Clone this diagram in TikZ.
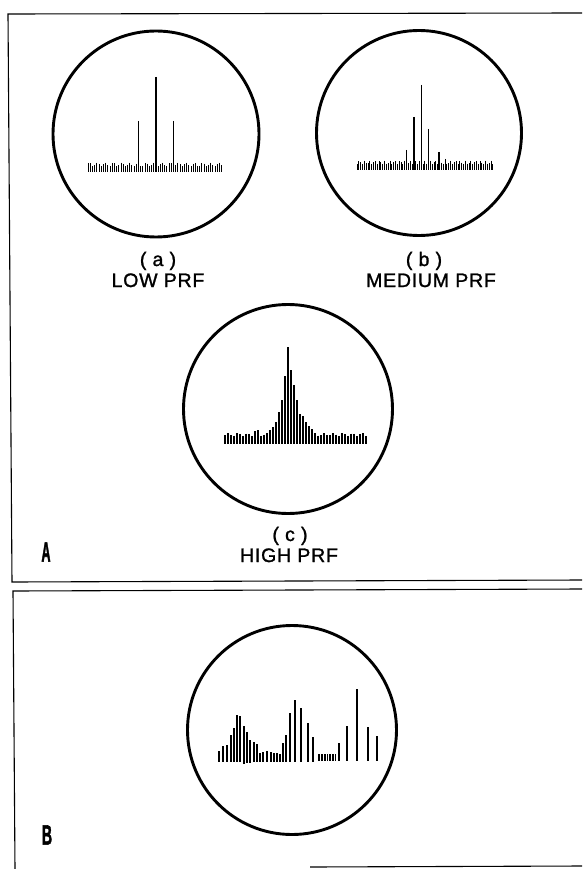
\documentclass[tikz,border=0pt]{standalone}
\usepackage{fontspec}
\setmainfont{Liberation Sans}[LetterSpace=4]
\newfontfamily\labfont{Liberation Sans}[LetterSpace=4, FakeBold=1.3]
\newfontfamily\panfont{Liberation Sans Bold}[FakeBold=2.5]
\usepackage{graphicx}
\begin{document}
\begin{tikzpicture}[x=1pt,y=-1pt,
  frame/.style={line width=1.1pt},
  crt/.style={circle, draw, line width=2.9pt, minimum size=#1, inner sep=0pt},
  spk/.style={line width=1.1pt},
  tck/.style={line width=1pt},
  lab/.style={font=\labfont\fontsize{19.5}{22}\selectfont, anchor=base, inner sep=0pt},
  plab/.style={font=\panfont\fontsize{28}{30}\selectfont, inner sep=0pt}]
\useasboundingbox (0,0) rectangle (582,869);
% frames
\coordinate (a1) at (8,14);
\coordinate (a2) at (582,13);
\coordinate (a3) at (12,582);
\coordinate (a4) at (582,580);
\draw[frame] (a2) -- (a1) -- (a3) -- (a4);
\coordinate (b1) at (13,591);
\coordinate (b2) at (582,589);
\coordinate (b3) at (15,869);
\coordinate (b4) at (310,867);
\coordinate (b5) at (582,866);
\draw[frame] (b2) -- (b1) -- (b3);
\draw[frame] (b4) -- (b5);
% circles
\node[crt=206pt] (ca) at (156,134) {};
\node[crt=205pt] (cb) at (419,133) {};
\node[crt=209pt] (cc) at (288,409) {};
\node[crt=209pt] (cd) at (292,730) {};
% spectrum (a)
\foreach \k in {-31,...,30} {
  \pgfmathsetmacro\xx{156+2.1875*\k}
  \pgfmathsetmacro\tt{164.5+2*sin(\k*97)}
  \draw[tck] (\xx,\tt) -- (\xx,172);
}
\foreach \xx/\tt in {156/77, 138.5/121, 173.5/121}
  \draw[spk] (\xx,\tt) -- (\xx,172);
% spectrum (b)
\foreach \k in {-35,...,39} {
  \pgfmathsetmacro\xx{421.3+1.835*\k}
  \pgfmathsetmacro\tt{162.5+2*sin(\k*131)}
  \draw[tck] (\xx,\tt) -- (\xx,170);
}
\foreach \xx/\tt in {406.7/150, 414/117, 421.3/85, 428.7/129, 439/152, 445.7/159}
  \draw[spk] (\xx,\tt) -- (\xx,170);
% spectrum (c)
\foreach \k in {-21,...,26} {
  \pgfmathsetmacro\xx{288+3*\k}
  \pgfmathsetmacro\tt{434.5+1.5*sin(\k*113)}
  \draw[spk] (\xx,\tt) -- (\xx,444);
}
\foreach \k/\tt in {0/347, -1/376, 1/370, -2/400, 2/385, -3/412, 3/400, 4/414, 5/416,
  6/422, -4/422, -5/427, 7/426, -6/430, 8/429, -10/430, -11/431} {
  \pgfmathsetmacro\xx{288+3*\k}
  \draw[spk] (\xx,\tt) -- (\xx,444);
}
% spectrum B
\foreach \xx/\tt/\bb in {219/751/762, 223/746/762, 227/745/762, 231/735/762, 234/728/762,
  237/715/762, 240/716/762, 244/726/764, 247/732/763, 250/740/763, 254/742/762, 257/744/762,
  260/753/762, 263/752/762, 267/751/762, 271/752/762, 274/753/762, 277/753/762, 280/754/762,
  283/743/762, 286/735/762, 290/713/762, 295/700/762, 301/708/762, 308/723/762, 313/737/762,
  319/754/761, 322/754/761, 325/754/761, 327.5/754/761, 330/754/761, 333/754/761, 335.5/754/761,
  339/743/761, 347/726/761, 357/689/761, 368/727/761, 377/736/761}
  \draw[spk] (\xx,\tt) -- (\xx,\bb);
% labels
\node[lab] (la1) at (158,266) {(\ a\ )};
\node[lab] (la2) at (158,287) {LOW PRF};
\node[lab] (lb1) at (424,266) {(\ b\ )};
\node[lab] (lb2) at (431,287) {MEDIUM PRF};
\node[lab] (lc1) at (290,541) {(\ c\ )};
\node[lab] (lc2) at (289,562) {HIGH PRF};
\node[plab] (pa) at (46,552) {\scalebox{0.45}[1]{A}};
\node[plab] (pb) at (47,835) {\scalebox{0.5}[1]{B}};
\end{tikzpicture}
\end{document}
